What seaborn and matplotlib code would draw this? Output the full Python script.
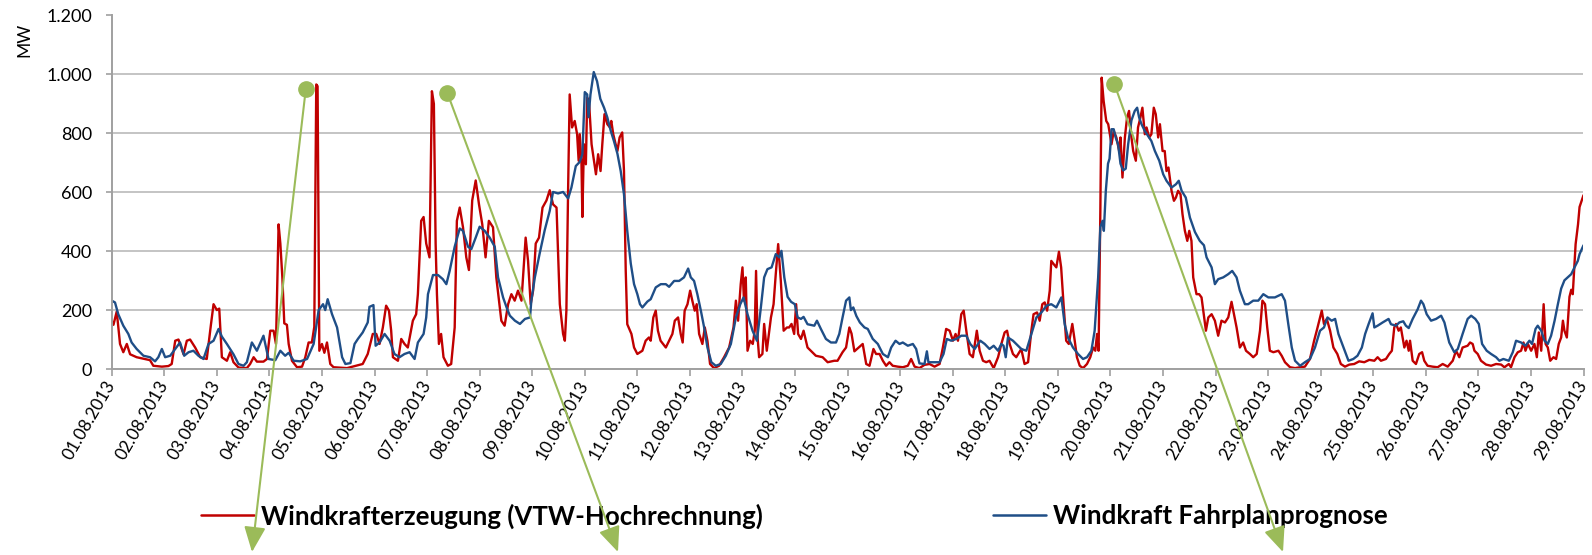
import pandas as pd
import matplotlib.pyplot as plt
import matplotlib.dates as mdates
from matplotlib.ticker import FuncFormatter, MultipleLocator
import seaborn as sns

START = pd.Timestamp('2013-08-01')
W, H = 1592, 555

# Windkrafterzeugung (VTW-Hochrechnung): Stunden ab 01.08.2013 00:00 / MW
red_h = [
    0, 0.8, 2.3, 3.8, 5.3, 6.9, 8.4, 11.4, 14.5, 17.5,
    19, 22.9, 25.9, 27.4, 29, 30.5, 32.8, 34.3, 35.8, 38.1,
    40.4, 43.4, 45.3, 46.5, 48, 49.1, 50.3, 52.6, 54.1, 55.6,
    57.9, 61.7, 63.2, 64.8, 66.3, 69.3, 70.9, 72.4, 73.9, 75,
    76.2, 77, 77.9, 78.8, 80, 80.8, 82.3, 84.6, 86.9, 88.4,
    89.9, 91.4, 92.5, 93.4, 94, 94.8, 96, 97.1, 98.3, 99.8,
    101.3, 107.4,
    111.6, 114.6, 116.9, 119.2, 120.8, 122.3, 123.8, 125.3, 126.6, 127.6,
    128.4, 130.7, 132.2, 133.7, 135.2, 137.5, 139, 139.8, 141.3, 142.4,
    143.6, 145.1, 146.2, 147.1, 147.9, 148.5, 149.4, 150.4, 151.5, 153.5,
    155, 156.6, 157.6, 158.9, 160.4, 161.9, 163.1, 164.6, 166.2, 167.7,
    169.2, 170.7, 172.2, 174.1, 175.6, 177.9, 179.4, 181, 182.5, 184,
    185.5, 187.1, 189, 190.1, 191.3, 192.4, 193.6, 195.1, 196.7, 198.5,
    200, 201.5, 203.1, 204.6, 206.1, 206.9, 207.6, 208.4, 209.1, 210.2,
    211.4, 212.5, 213.2, 213.7, 214.5, 214.9, 215.6, 216.5, 217.1, 218,
    219.1, 221.1, 222.1,
    223.2, 224, 225, 226.3, 227.5, 228.1, 229, 230.1, 230.9, 231.9,
    233.1, 233.9, 234.7, 235.4, 237.3, 238.5, 240, 242.3, 243.8, 245.3,
    246.1, 247.3, 248.4, 249.4, 250.6, 253, 254.5, 256, 257.1, 258.6,
    259.8, 260.7, 261.6, 262.9, 264.1, 265.1, 266.2, 267.1, 268.2, 269.7,
    270.8, 272, 273.2, 275, 277.3, 279.6, 281.9, 283.9, 285, 286,
    287.2, 288, 288.7, 289.5, 290.3, 291.5, 292.7, 293.6, 294.2, 294.9,
    295.6, 297.1, 297.9, 299.1, 301, 302.2, 303.2, 304.3, 305.5, 306.8,
    308.3, 309.3, 310.4, 311.6, 312.5, 313.4, 314.7, 315.9, 317.7, 319.2,
    321.5, 324.6, 326.9, 329.9, 331.4, 333.7, 335.3,
    336.8, 337.8, 339.1, 340.6, 342.9, 344.5, 346, 347.8, 349, 350.6,
    352.1, 353.6, 355.1, 356.6, 358.9, 361.2, 363.5, 365, 366.6, 368.8,
    371.1, 373.4, 375.7, 378, 379.5, 381, 382.6, 384.1, 385.3, 386.4,
    387.9, 389, 390.2, 391.7, 393.2, 395, 396.3, 397.8, 399.3, 400.8,
    402.7, 404.7, 406.2, 407.7, 408.8, 410, 411.5, 413, 415.3, 416.8,
    418.4, 419.9, 420.9, 422.5, 423.7, 424.9, 426, 427.1, 428.3, 429,
    430.1, 431.3, 432.5, 433.5, 434.6, 435.8, 437, 438.6, 439.7, 440.7,
    442, 443.5, 445.3, 446.8, 448.1, 449.1, 449.9, 450.6, 451.4, 452,
    452.9, 454.1, 455,
    456.5, 457.5, 458.7, 460, 460.6, 461.5, 462.6, 463.6, 464.5, 465.6,
    466.4, 467.6, 468.6, 469.7, 470.6, 471.7, 472.5, 473.7, 474.7, 475.8,
    476.7, 477.8, 478.6, 479.8, 480.8, 481.6, 482.5, 483.9, 485, 485.9,
    486.9, 488, 488.9, 490, 491.1, 492, 493, 493.8, 495.3, 496.5,
    497.6, 498.4, 499.6, 500.7, 502.2, 503.7, 505.2, 506.7, 508.3, 509.8,
    511.3, 512.4, 513.6, 515.1, 516.6, 517.9, 519.7, 521.2, 522.8, 524.3,
    525.4, 526.6, 527.6, 528.8, 530.4, 532.7, 534.2, 535.7, 538, 540.3,
    542.6, 544.8, 547.1, 549, 550.2, 551.7, 552.5, 553.5, 554.8, 556.3,
    557.8, 559.6, 561.2, 563.1, 565.1,
    567.3, 569.6, 571.9, 574.2, 576.5, 578, 579.5, 581.8, 583.3, 584.5,
    585.6, 586.4, 587.6, 588.6, 590.2, 591.2, 592.2, 592.8, 594, 595.5,
    597, 598.3, 599.3, 600.8, 603.1, 605.4, 607.7, 610, 612.3, 613.8,
    615.3, 616.8, 619.1, 620.2, 621.4, 622.2, 623.7, 625.2, 627.5, 629.8,
    632.1, 634.4, 635.9, 637.9, 638.9, 640.5, 642, 643.5, 644.6, 645.5,
    646.6, 648.1, 649.6, 650.7, 651.6, 652.7, 653.8, 654.7, 655.7, 656.8,
    658.3, 659.5, 660.7, 661.8, 662.6, 663.3, 664.4, 665.6, 666.4, 667.1,
    668.4, 669.5, 670.2, 672,
]
red_mw = [
    164, 150, 195, 85, 57, 85, 50, 40, 35, 30,
    11, 8, 10, 17, 96, 100, 50, 96, 100, 73,
    40, 34, 150, 220, 200, 205, 40, 28, 57, 23,
    5, 3, 17, 40, 25, 25, 34, 130, 130, 85,
    491, 426, 313, 155, 150, 85, 28, 6, 8, 40,
    90, 90, 143, 966, 960, 62, 85, 55, 90, 17,
    6, 3,
    11, 17, 51, 119, 119, 85, 141, 215, 198, 130,
    40, 28, 102, 85, 73, 164, 186, 254, 503, 516,
    426, 379, 943, 900, 426, 254, 85, 119, 40, 11,
    17, 141, 503, 548, 481, 379, 336, 572, 640, 559,
    491, 379, 503, 481, 311, 164, 147, 220, 254, 232,
    266, 232, 446, 367, 220, 266, 426, 446, 548, 572,
    607, 559, 548, 220, 119, 96, 198, 616, 932, 820,
    842, 797, 707, 797, 695, 516, 763, 695, 921, 899,
    763, 661, 729,
    672, 763, 865, 831, 820, 842, 797, 763, 740, 786,
    803, 672, 333, 152, 119, 73, 51, 62, 96, 107,
    96, 175, 198, 130, 96, 73, 96, 119, 164, 175,
    119, 90, 198, 220, 266, 232, 198, 220, 119, 85,
    141, 96, 17, 3, 11, 40, 73, 141, 232, 164,
    288, 345, 232, 311, 62, 96, 85, 130, 333, 107,
    40, 51, 153, 62, 175, 220, 322, 424, 300, 130,
    141, 141, 153, 119, 220, 119, 102, 130, 73, 62,
    45, 40, 23, 28, 28, 57, 73,
    141, 120, 60, 70, 85, 17, 11, 68, 51, 51,
    28, 11, 23, 11, 8, 6, 11, 34, 8, 3,
    14, 17, 8, 17, 73, 136, 130, 96, 119, 96,
    186, 198, 130, 51, 40, 130, 62, 28, 23, 28,
    3, 40, 85, 124, 130, 85, 51, 40, 68, 17,
    23, 130, 186, 192, 164, 220, 226, 198, 266, 367,
    356, 345, 398, 345, 220, 96, 85, 153, 96, 40,
    11, 3, 17, 40, 73, 62, 119, 62, 537, 989,
    910, 842, 831,
    763, 808, 786, 740, 786, 650, 786, 854, 876, 786,
    740, 707, 820, 854, 887, 797, 820, 786, 797, 887,
    865, 786, 831, 740, 740, 672, 684, 605, 571, 582,
    605, 593, 526, 469, 435, 469, 435, 311, 254, 254,
    243, 198, 130, 175, 186, 164, 113, 164, 158, 175,
    228, 186, 141, 73, 90, 62, 51, 40, 51, 130,
    232, 220, 141, 62, 57, 62, 45, 23, 6, 3,
    6, 8, 34, 96, 130, 175, 198, 153, 170, 130,
    73, 51, 17, 8, 15,
    17, 26, 23, 31, 28, 40, 28, 34, 51, 62,
    141, 153, 130, 141, 73, 96, 62, 96, 28, 17,
    51, 57, 28, 11, 8, 6, 17, 8, 28, 62,
    40, 73, 79, 90, 85, 62, 51, 28, 15, 11,
    17, 15, 6, 17, 6, 40, 57, 62, 90, 62,
    85, 62, 85, 40, 124, 62, 220, 85, 73, 28,
    40, 34, 85, 107, 164, 130, 107, 245, 269, 254,
    424, 491, 550, 590,
]

# Windkraft Fahrplanprognose: Stunden ab 01.08.2013 00:00 / MW
blue_h = [
    0, 1.5, 3, 5.3, 7.6, 9.1, 11.4, 14.5, 17.5, 19.8,
    21.3, 22.9, 24.4, 26.7, 29, 31.2, 33.1, 35.1, 37.3, 39.6,
    41.9, 44.2, 46.5, 48.8, 50.3, 52.6, 55.6, 57.9, 60.2, 61.7,
    64, 66.3, 69.3, 71.6, 74.7, 77, 79.2, 80.8, 83.1, 86.1,
    89.2, 92.2, 94.5, 96.5, 97.5, 98.6, 100.6, 102.9, 105.2, 106.7,
    109,
    110.9, 112.4, 114.6, 116.9, 117.7, 119.5, 120.5, 122.3, 124.6, 126.9,
    129.1, 131.4, 133.7, 136, 138.3, 139.8, 142.4, 143.6, 144.4, 146.7,
    149, 151.2, 152.8, 154.3, 156.6, 158.9, 160.4, 162.7, 164.2, 166.2,
    168, 170.3, 172.6, 174.9, 176.4, 178.7, 180.3, 181.8, 184.1, 186.4,
    188.7, 191, 191.6, 193.2, 195.4, 197.7, 200, 201.5, 203.8, 206.1,
    208.4, 209.9, 211.9, 213.7, 214.9, 216, 217.1, 217.7, 218.6, 220.1,
    221.6, 223.1,
    224.8, 226.3, 227.8, 229.3, 230.9, 232.4, 233.9, 235.4, 237, 238.5,
    240, 241.2, 242.3, 244.6, 246.1, 248.4, 250.7, 253, 254.5, 256.8,
    259.1, 261.3, 263.2, 264.4, 265.9, 267.4, 269, 270.5, 272, 273.8,
    275.8, 278.1, 280.4, 282.7, 285, 287, 288.5, 290.3, 292.6, 294.6,
    296.4, 297.9, 299.4, 301.3, 303.2, 304.8, 305.8, 307.1, 308.6, 310.2,
    311.9, 313.2, 314.7, 315.9, 317.7, 320.8, 322, 323.8, 326.1, 328.4,
    330.7, 332.2, 333.7, 335.3,
    336.8, 337.5, 338.6, 340, 341.6, 343.7, 345.2, 347.5, 349.8, 352.1,
    354.4, 355.9, 357.9, 359.7, 361.2, 363.5, 365.8, 367.3, 368.8, 371.1,
    372.2, 372.9, 375.7, 378, 379.8, 381.3, 383.3, 385.6, 387.9, 390.2,
    392, 394, 396.6, 398.6, 400.8, 402.7, 404.7, 406.2, 407.2, 408.2,
    409.2, 411.5, 413.8, 415.3, 417.6, 419.9, 422.2, 424.5, 426.8, 429,
    431.3, 433.6, 435.1, 436.6, 438.9, 441.2, 443.5, 445.3, 447.3, 448.8,
    450.4, 451.4, 452.4, 453, 453.9, 454.9, 455.6,
    456.5, 457.5, 458.4, 459.5, 460.6, 461.8, 463, 464.1, 465.6, 467.1,
    468.2, 469.1, 470.2, 471.7, 473.2, 474.7, 476.3, 478.3, 480.1, 481.6,
    483.9, 485.9, 487.2, 488.5, 490.4, 492.3, 494.6, 496.8, 498.7, 499.9,
    502.2, 503.7, 505.2, 507.5, 509.8, 511.6, 513.6, 515.1, 517.4, 518.9,
    521.2, 523.5, 525.8, 528.1, 531.1, 534.2, 535.7, 537.2, 538.8, 540.3,
    542.6, 544.8, 547.1, 549.4, 551.7, 553.5, 555.1, 557, 558.6, 560.1,
    562.4, 564.7,
    566.9, 568.8, 570.8, 572.3, 573.9, 575.7, 576.5, 578, 580.3, 583,
    584.1, 586.4, 587.9, 589.7, 590.9, 592.2, 594, 596.3, 597.8, 598.9,
    600.4, 602.4, 604.7, 607, 608.5, 610.7, 613, 614.6, 616.8, 619.1,
    620.7, 622.6, 624.2, 625.7, 627.8, 629.8, 632.1, 633.6, 635.4, 637.9,
    639.7, 641.2, 643.5, 645.5, 647.3, 648.5, 650.1, 651.1, 652.7, 654.2,
    655.7, 657.2, 658.8, 660.3, 661.8, 663.3, 664.8, 666.4, 667.9, 669.4,
    670.2, 672,
]
blue_mw = [
    232, 226, 186, 147, 119, 90, 68, 45, 40, 26,
    40, 68, 40, 45, 68, 90, 45, 57, 62, 45,
    34, 85, 96, 136, 110, 85, 50, 17, 11, 23,
    90, 62, 113, 34, 30, 62, 45, 55, 28, 26,
    34, 85, 200, 220, 200, 237, 186, 141, 40, 17,
    20,
    85, 102, 124, 158, 211, 217, 79, 90, 119, 96,
    51, 40, 51, 57, 34, 90, 119, 175, 254, 319,
    319, 305, 288, 333, 415, 477, 469, 415, 407, 446,
    483, 469, 446, 415, 311, 243, 209, 181, 164, 153,
    170, 175, 232, 311, 392, 471, 537, 601, 596, 601,
    579, 616, 689, 703, 729, 940, 932, 855, 932, 1008,
    977, 917,
    887, 854, 810, 774, 731, 672, 593, 469, 358, 288,
    254, 220, 209, 229, 237, 277, 288, 288, 279, 299,
    299, 311, 341, 311, 299, 254, 198, 141, 73, 23,
    11, 17, 45, 85, 175, 220, 243, 186, 130, 96,
    209, 311, 339, 345, 390, 379, 401, 311, 245, 228,
    220, 175, 170, 177, 152, 147, 164, 136, 102, 90,
    90, 119, 175, 232,
    243, 200, 209, 180, 158, 141, 136, 102, 85, 51,
    40, 73, 96, 85, 90, 79, 85, 68, 19, 17,
    60, 23, 23, 23, 51, 102, 96, 102, 113, 113,
    85, 68, 96, 85, 68, 79, 62, 85, 79, 40,
    107, 96, 79, 68, 62, 119, 175, 192, 215, 220,
    209, 243, 153, 107, 73, 51, 34, 40, 62, 130,
    311, 482, 503, 469, 605, 697, 714,
    814, 814, 786, 763, 697, 674, 680, 763, 844, 876,
    887, 854, 831, 808, 791, 774, 740, 707, 661, 639,
    616, 627, 639, 605, 582, 514, 465, 435, 420, 379,
    345, 288, 305, 311, 322, 333, 311, 266, 220, 220,
    232, 232, 254, 243, 243, 254, 232, 153, 73, 28,
    11, 23, 34, 73, 130, 141, 175, 164, 170, 119,
    73, 28,
    34, 45, 73, 119, 153, 189, 141, 147, 158, 170,
    152, 147, 158, 162, 147, 139, 170, 203, 232, 220,
    186, 164, 170, 181, 158, 90, 57, 68, 119, 170,
    181, 170, 153, 85, 62, 51, 40, 28, 34, 28,
    57, 96, 90, 79, 96, 85, 136, 147, 130, 96,
    85, 113, 164, 220, 273, 301, 311, 322, 345, 367,
    390, 420,
]

# gruene Markierungen: Punkt im Diagramm -> Pfeilspitze unter dem Diagramm (Pixel von oben links)
callout_h = [88.6, 153.3, 457.8]
callout_mw = [949, 936, 967]
callout_tip_px = [(252, 552), (618, 552), (1283, 552)]

RED = '#C00000'
BLUE = '#1F4E87'
GREEN = '#9BBB59'
AXIS_GREY = '#A0A0A0'
GRID_GREY = '#C4C4C4'

sns.set_theme(style='white')
plt.rcParams['font.family'] = ['Lato', 'DejaVu Sans']
plt.rcParams['text.color'] = 'black'

fig = plt.figure(figsize=(W / 100, H / 100), dpi=100)
ax = fig.add_axes([111.7 / W, 1 - 369 / H, (1583.5 - 111.7) / W, (369 - 15.5) / H])

df_red = pd.DataFrame({'zeit': START + pd.to_timedelta(red_h, unit='h'), 'mw': red_mw})
df_blue = pd.DataFrame({'zeit': START + pd.to_timedelta(blue_h, unit='h'), 'mw': blue_mw})

sns.lineplot(data=df_red, x='zeit', y='mw', color=RED, lw=1.7,
             label='Windkrafterzeugung (VTW-Hochrechnung)', ax=ax)
sns.lineplot(data=df_blue, x='zeit', y='mw', color=BLUE, lw=1.7,
             label='Windkraft Fahrplanprognose', ax=ax)

# Achsen
ax.set_xlim(START, START + pd.Timedelta(days=28))
ax.set_ylim(0, 1200)
ax.yaxis.set_major_locator(MultipleLocator(200))
ax.yaxis.set_major_formatter(FuncFormatter(lambda v, _: f'{int(v):,}'.replace(',', '.')))
ax.xaxis.set_major_locator(mdates.DayLocator())
ax.xaxis.set_major_formatter(mdates.DateFormatter('%d.%m.%Y'))
ax.set_xlabel('')
ax.set_ylabel('')

ax.grid(False)
ax.yaxis.grid(True, color=GRID_GREY, lw=1.4)
for s in ['top', 'right']:
    ax.spines[s].set_visible(False)
for s in ['left', 'bottom']:
    ax.spines[s].set_color(AXIS_GREY)
    ax.spines[s].set_linewidth(1.4)

ax.tick_params(axis='y', length=4, width=1.2, color=AXIS_GREY, pad=10,
               labelsize=13, labelcolor='black', left=True)
ax.tick_params(axis='x', length=5, width=1.2, color=AXIS_GREY, pad=4,
               labelsize=12.5, labelcolor='black', bottom=True)
for lbl in ax.get_xticklabels():
    lbl.set_rotation(60)
    lbl.set_ha('right')
    lbl.set_va('center')
    lbl.set_rotation_mode('anchor')

fig.text(24 / W, 1 - 40 / H, 'MW', rotation=90, ha='center', va='center', fontsize=12.5)

# Legende (zwei getrennte Eintraege unten)
handles, labels = ax.get_legend_handles_labels()
ax.get_legend().remove()
for hd, lb, x0 in zip(handles, labels, [201, 993]):
    leg = fig.legend([hd], [lb], loc='center left', bbox_to_anchor=(x0 / W, 1 - 516 / H),
                     frameon=False, prop={'weight': 'bold', 'size': 18.6},
                     handlelength=2.05, handletextpad=0.27, borderpad=0, borderaxespad=0)
    leg.set_zorder(-1)
    for ln in leg.get_lines():
        ln.set_linewidth(1.8)

# gruene Pfeile
for h, mw, (tx, ty) in zip(callout_h, callout_mw, callout_tip_px):
    t = mdates.date2num(START + pd.Timedelta(hours=h))
    ax.annotate('', xy=(tx / W, 1 - ty / H), xycoords='figure fraction',
                xytext=(t, mw), textcoords='data', annotation_clip=False,
                arrowprops=dict(arrowstyle='-|>,head_length=0.7,head_width=0.3',
                                color=GREEN, lw=1.5, shrinkA=0, shrinkB=0,
                                mutation_scale=22))
    ax.plot([t], [mw], 'o', ms=11, color=GREEN, clip_on=False, zorder=6)

plt.savefig('out.png', dpi=100)
